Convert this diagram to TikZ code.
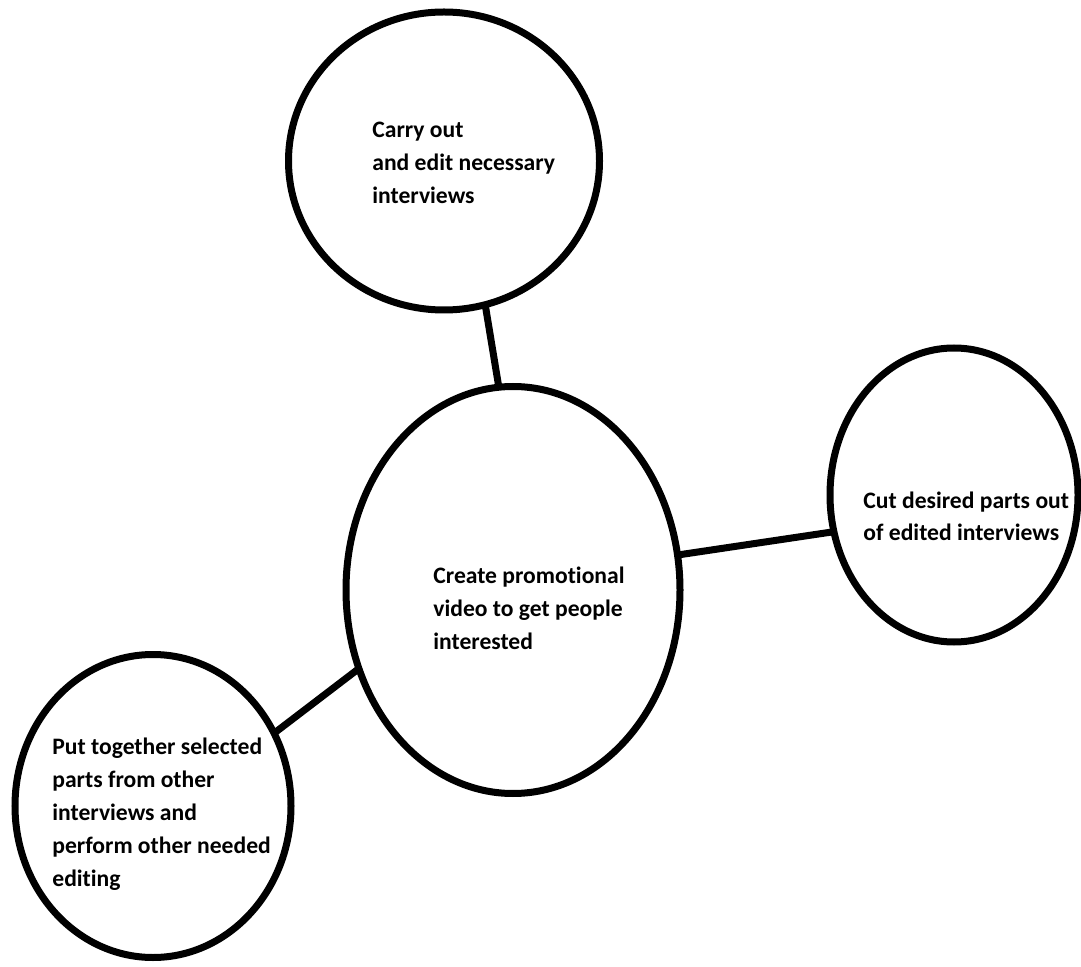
\documentclass[tikz,border=0pt]{standalone}
\usepackage{fontspec}
\setmainfont{Carlito}[Ligatures=NoCommon]
\usetikzlibrary{shapes.geometric}

\begin{document}
\begin{tikzpicture}[
        x=0.5pt, y=-0.5pt,
        bubble/.style={
            draw,
            ellipse,
            line width=3.5pt,
            inner sep=0pt,
            outer sep=0pt
        },
        words/.style={
            font=\fontsize{11.8pt}{16.5pt}\selectfont\bfseries,
            align=left,
            inner sep=0pt,
            anchor=base west
        },
        link/.style={
            line width=3.5pt
        }
    ]
        % Page
        \useasboundingbox[fill=white] (0,0) rectangle (1081,967);
        
        % Bubbles
        \node[bubble, minimum width=155.5pt, minimum height=149pt] (carry) at (444,161) {};
        \node[bubble, minimum width=167pt, minimum height=203.5pt] (promo) at (513,590) {};
        \node[bubble, minimum width=124pt, minimum height=147pt] (cut) at (954,495) {};
        \node[bubble, minimum width=138pt, minimum height=151.5pt] (assemble) at (153,806) {};
        
        % Texts (placed by the baseline of their last line)
        \node[words] (carry-text) at (372,204) {Carry out\\and edit necessary\\interviews};
        \node[words] (promo-text) at (433,649) {Create promotional\\video to get people\\interested};
        \node[words] (cut-text) at (863,541) {Cut desired parts out\\of edited interviews};
        \node[words] (assemble-text) at (52,886) {Put together selected\\parts from other\\interviews and\\perform other needed\\editing};
        
        % Links
        \draw[link] (carry.-74) -- (promo.94);
        \draw[link] (promo.12) -- (cut.197);
        \draw[link] (promo.207) -- (assemble.31);
        
    \end{tikzpicture}
\end{document}
